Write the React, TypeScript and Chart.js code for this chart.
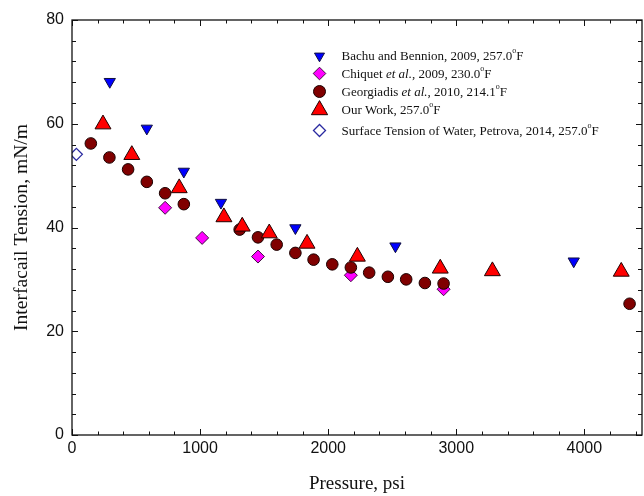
import React, { useEffect, useRef } from 'react';
import { Chart, registerables } from 'chart.js';
import { drawPoint } from 'chart.js/helpers';

Chart.register(...registerables);

// Interfacial tension (mN/m) against pressure (psi)
const bachuPressure = [295, 584, 873, 1163, 1744, 2525, 3917];
const bachuIFT = [68.1, 59.1, 50.8, 44.8, 39.9, 36.4, 33.5];

const chiquetPressure = [727, 1016, 1452, 2177, 2901];
const chiquetIFT = [43.8, 38.0, 34.4, 30.8, 28.1];

const georgiadisPressure = [147, 292, 438, 584, 727, 873, 1309, 1452, 1598, 1744, 1886, 2032, 2177, 2320, 2466, 2609, 2755, 2901, 4353];
const georgiadisIFT = [56.2, 53.5, 51.2, 48.8, 46.6, 44.5, 39.6, 38.1, 36.7, 35.1, 33.8, 32.9, 32.3, 31.3, 30.5, 30.0, 29.3, 29.2, 25.3];

const ourWorkPressure = [242, 467, 837, 1186, 1329, 1540, 1835, 2228, 2875, 3282, 4288];
const ourWorkIFT = [59.9, 54.0, 47.6, 42.0, 40.2, 38.9, 36.9, 34.4, 32.1, 31.6, 31.5];

const petrovaPressure = [34];
const petrovaIFT = [54.1];

const xTickValues = [0, 1000, 2000, 3000, 4000];
const yTickValues = [0, 20, 40, 60, 80];

// Legend entries: plain / italic / superscript pieces
type Seg = { t: string; i?: boolean; sup?: boolean };
const legendBachu: Seg[] = [{ t: 'Bachu and Bennion, 2009, 257.0' }, { t: 'o', sup: true }, { t: 'F' }];
const legendChiquet: Seg[] = [{ t: 'Chiquet ' }, { t: 'et al.', i: true }, { t: ', 2009, 230.0' }, { t: 'o', sup: true }, { t: 'F' }];
const legendGeorgiadis: Seg[] = [{ t: 'Georgiadis ' }, { t: 'et al.', i: true }, { t: ', 2010, 214.1' }, { t: 'o', sup: true }, { t: 'F' }];
const legendOurWork: Seg[] = [{ t: 'Our Work, 257.0' }, { t: 'o', sup: true }, { t: 'F' }];
const legendPetrova: Seg[] = [{ t: 'Surface Tension of Water, Petrova, 2014, 257.0' }, { t: 'o', sup: true }, { t: 'F' }];

const SERIF = "'Liberation Serif', 'Times New Roman', serif";
const SANS = "'Liberation Sans', Arial, sans-serif";

const toPoints = (xs: number[], ys: number[]) => xs.map((x, i) => ({ x, y: ys[i] }));

const frameTicks = {
  id: 'frameTicks',
  afterDatasetsDraw(chart: any) {
    const { ctx, chartArea, scales } = chart;
    const { left, right, top, bottom } = chartArea;
    const x = scales.x;
    const y = scales.y;
    ctx.save();
    ctx.strokeStyle = '#111';
    ctx.lineWidth = 1.3;
    ctx.strokeRect(left, top, right - left, bottom - top);
    ctx.lineWidth = 1;
    ctx.beginPath();
    for (let v = 0; v <= x.max; v += 200) {
      const px = Math.round(x.getPixelForValue(v)) + 0.5;
      const len = v % 1000 === 0 ? 6 : 3.5;
      ctx.moveTo(px, bottom);
      ctx.lineTo(px, bottom - len);
      ctx.moveTo(px, top);
      ctx.lineTo(px, top + len);
    }
    for (let v = 0; v <= y.max; v += 4) {
      const py = Math.round(y.getPixelForValue(v)) + 0.5;
      const len = v % 20 === 0 ? 6 : 4;
      ctx.moveTo(left, py);
      ctx.lineTo(left + len, py);
      ctx.moveTo(right, py);
      ctx.lineTo(right - len, py);
    }
    ctx.stroke();
    ctx.restore();
  },
};

const legendRows = [
  { segs: legendBachu, ds: 0, y: 56 },
  { segs: legendChiquet, ds: 1, y: 73.5 },
  { segs: legendGeorgiadis, ds: 2, y: 91.5 },
  { segs: legendOurWork, ds: 3, y: 110 },
  { segs: legendPetrova, ds: 4, y: 130.5 },
];

const insetLegend = {
  id: 'insetLegend',
  afterDraw(chart: any) {
    const { ctx } = chart;
    const markerX = 319.5;
    const textX = 341.5;
    const size = 13;
    ctx.save();
    for (const row of legendRows) {
      const d = chart.data.datasets[row.ds];
      ctx.fillStyle = d.pointBackgroundColor;
      ctx.strokeStyle = d.pointBorderColor;
      ctx.lineWidth = d.pointBorderWidth;
      drawPoint(ctx, {
        pointStyle: d.pointStyle,
        rotation: d.pointRotation || 0,
        radius: d.legendRadius,
        borderWidth: d.pointBorderWidth,
      } as any, markerX, row.y);
      let cx = textX;
      ctx.fillStyle = '#111';
      ctx.textBaseline = 'middle';
      ctx.textAlign = 'left';
      for (const s of row.segs) {
        if (s.sup) {
          ctx.font = `8px ${SERIF}`;
          ctx.fillText(s.t, cx, row.y - 5);
        } else {
          ctx.font = `${s.i ? 'italic ' : ''}${size}px ${SERIF}`;
          ctx.fillText(s.t, cx, row.y + 1);
        }
        cx += ctx.measureText(s.t).width;
      }
    }
    ctx.restore();
  },
};

export default function App() {
  const canvasRef = useRef<HTMLCanvasElement | null>(null);

  useEffect(() => {
    if (!canvasRef.current) return;
    const tickFont = { family: SANS, size: 16 };
    const chart = new Chart(canvasRef.current, {
      type: 'scatter',
      data: {
        datasets: [
          {
            label: 'Bachu and Bennion, 2009',
            data: toPoints(bachuPressure, bachuIFT),
            pointStyle: 'triangle',
            pointRotation: 180,
            pointRadius: 6.5,
            legendRadius: 5.8,
            pointBackgroundColor: '#0000ff',
            pointBorderColor: '#101040',
            pointBorderWidth: 1,
            order: 5,
          },
          {
            label: 'Chiquet et al., 2009',
            data: toPoints(chiquetPressure, chiquetIFT),
            pointStyle: 'rectRot',
            pointRadius: 6.5,
            legendRadius: 6.3,
            pointBackgroundColor: '#ff00ff',
            pointBorderColor: '#401040',
            pointBorderWidth: 1,
            order: 4,
          },
          {
            label: 'Georgiadis et al., 2010',
            data: toPoints(georgiadisPressure, georgiadisIFT),
            pointStyle: 'circle',
            pointRadius: 5.8,
            legendRadius: 6,
            pointBackgroundColor: '#800000',
            pointBorderColor: '#1a0000',
            pointBorderWidth: 1,
            order: 3,
          },
          {
            label: 'Our Work',
            data: toPoints(ourWorkPressure, ourWorkIFT),
            pointStyle: 'triangle',
            pointRadius: 9.2,
            legendRadius: 9.4,
            pointBackgroundColor: '#ff0000',
            pointBorderColor: '#200000',
            pointBorderWidth: 1,
            order: 2,
          },
          {
            label: 'Surface Tension of Water, Petrova, 2014',
            data: toPoints(petrovaPressure, petrovaIFT),
            pointStyle: 'rectRot',
            pointRadius: 6,
            legendRadius: 6,
            pointBackgroundColor: '#ffffff',
            pointBorderColor: '#2a2aa0',
            pointBorderWidth: 1.3,
            order: 1,
          },
        ] as any,
      },
      options: {
        animation: false,
        responsive: false,
        layout: { autoPadding: false, padding: { top: 20, right: 2, left: 0, bottom: 0 } },
        plugins: { legend: { display: false }, tooltip: { enabled: false } },
        scales: {
          x: {
            type: 'linear',
            min: 0,
            max: 4450,
            afterBuildTicks: (s: any) => {
              s.ticks = xTickValues.map((value) => ({ value }));
            },
            afterFit: (s: any) => {
              s.height = 61;
            },
            grid: { display: false, drawTicks: false },
            border: { display: false },
            ticks: {
              padding: 4,
              font: tickFont,
              color: '#111',
              maxRotation: 0,
              autoSkip: false,
              callback: (v: any) => String(v),
            },
            title: {
              display: true,
              text: 'Pressure, psi',
              font: { family: SERIF, size: 19 },
              color: '#111',
              padding: { top: 0, bottom: 1 },
            },
          },
          y: {
            type: 'linear',
            min: 0,
            max: 80,
            afterBuildTicks: (s: any) => {
              s.ticks = yTickValues.map((value) => ({ value }));
            },
            afterFit: (s: any) => {
              s.width = 72;
            },
            grid: { display: false, drawTicks: false },
            border: { display: false },
            ticks: { padding: 8, font: tickFont, color: '#111', callback: (v: any) => String(v) },
            title: {
              display: true,
              text: 'Interfacail Tension, mN/m',
              font: { family: SERIF, size: 19.6 },
              color: '#111',
              padding: { top: 10.5, bottom: 0 },
            },
          },
        },
      } as any,
      plugins: [frameTicks, insetLegend],
    });
    return () => chart.destroy();
  }, []);

  return (
    <div style={{ position: 'absolute', left: 0, top: 0, width: 644, height: 496, background: '#fff' }}>
      <canvas ref={canvasRef} width={644} height={496} />
    </div>
  );
}
